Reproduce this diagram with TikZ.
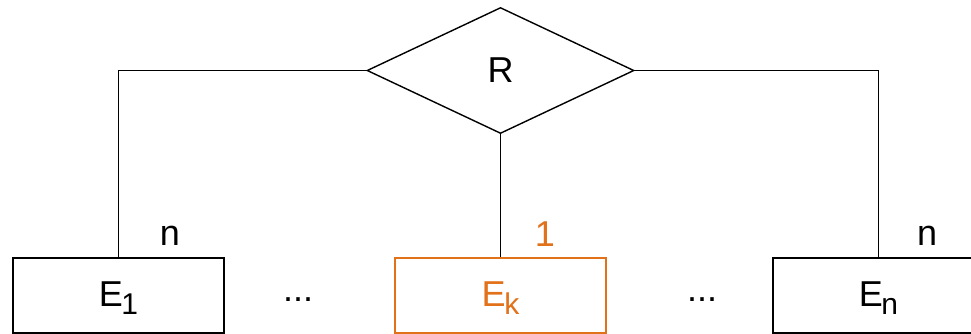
\documentclass[tikz,border=0pt]{standalone}
\usepackage{fontspec}
\setmainfont{Liberation Sans}
\usetikzlibrary{shapes.geometric}
\definecolor{accent}{RGB}{226,114,26}
% lowered, slightly smaller index after an entity letter
\newcommand{\idx}[1]{\kern-0.04em\raisebox{-0.22em}{\fontsize{30}{30}\selectfont #1}}
\begin{document}
\begin{tikzpicture}[x=1pt,y=-1pt,
  every node/.style={font=\fontsize{36}{36}\selectfont},
  line/.style={line width=1.4pt},
  entity/.style={draw,line width=1.4pt,minimum width=211pt,minimum height=75pt,inner sep=0pt},
  relation/.style={draw,line width=1.4pt,diamond,minimum width=267pt,minimum height=126pt,inner sep=0pt}]
\useasboundingbox (0,0) rectangle (971,333);
\fill[white] (0,0) rectangle (971,333);
\node[relation] (r) at (500.5,70.5) {R};
\node[entity] (e1) at (118.5,295.5) {};
\node[entity,draw=accent] (ek) at (500.5,295.5) {};
\node[entity] (en) at (878.5,295.5) {};
\node (t1) at (118.5,298) {E\idx{1}};
\node[text=accent] (tk) at (500.5,298) {E\idx{k}};
\node (tn) at (878.5,298) {E\idx{n}};
\node (d1) at (298,300) {...};
\node (d2) at (702,300) {...};
\node (c1) at (170,236) {n};
\node[text=accent] (ck) at (545,234) {1};
\node (cn) at (927,236) {n};
\draw[line] (r.west) -| (e1.north);
\draw[line] (r.east) -| (en.north);
\draw[line] (r.south) -- (ek.north);
\end{tikzpicture}
\end{document}
